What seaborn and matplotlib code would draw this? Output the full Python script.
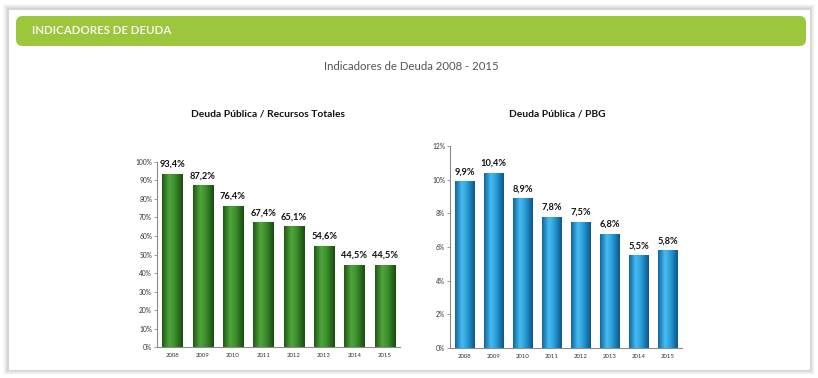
import matplotlib
matplotlib.use("Agg")
import matplotlib.pyplot as plt
import numpy as np
import pandas as pd
import seaborn as sns
from matplotlib.patches import Rectangle, FancyBboxPatch
from matplotlib.colors import LinearSegmentedColormap
from matplotlib.ticker import FuncFormatter, MultipleLocator

# Data
years = ['2008', '2009', '2010', '2011', '2012', '2013', '2014', '2015']
deuda_recursos = [93.4, 87.2, 76.4, 67.4, 65.1, 54.6, 44.5, 44.5]
deuda_pbg = [9.9, 10.4, 8.9, 7.8, 7.5, 6.8, 5.5, 5.8]

sns.set_style("white")
plt.rcParams['font.family'] = ['Lato', 'DejaVu Sans']

W, H = 818, 378
fig = plt.figure(figsize=(W / 100, H / 100), dpi=100)
fig.patch.set_facecolor('white')


def fx(x):
    return x / W


def fy(y):
    return 1 - y / H


# panel shadow + frame
for i, a in enumerate([0.025, 0.03, 0.035, 0.04, 0.05]):
    d = 5 - i
    fig.patches.append(Rectangle((fx(8 - d), fy(370 + d)), (802 + 2 * d) / W, (361 + 2 * d) / H,
                                 transform=fig.transFigure, facecolor='black', alpha=a,
                                 edgecolor='none', zorder=-3))
fig.patches.append(Rectangle((fx(8), fy(370)), 802 / W, 361 / H, transform=fig.transFigure,
                             facecolor='white', edgecolor='#d6d6d6', lw=0.8, zorder=-2))

# green header
fig.patches.append(FancyBboxPatch((fx(16), fy(46)), 790 / W, 30 / H, transform=fig.transFigure,
                                  boxstyle="round,pad=0,rounding_size=0.008",
                                  facecolor='#9cc63c', edgecolor='none', zorder=1,
                                  mutation_aspect=W / H))
fig.text(fx(32), fy(31), 'INDICADORES DE DEUDA', color='#f4f8ea', fontsize=8.3,
         fontweight='bold', va='center', ha='left', zorder=2)
fig.text(fx(411), fy(67), 'Indicadores de Deuda 2008 - 2015', color='#555555', fontsize=8.2,
         va='center', ha='center')

green = LinearSegmentedColormap.from_list('g', [(0, '#1f5a14'), (0.35, '#4fa63c'),
                                                (0.6, '#3d8f2e'), (1, '#1a4c10')])
blue = LinearSegmentedColormap.from_list('b', [(0, '#0f67a0'), (0.35, '#48bcef'),
                                               (0.6, '#2aa0dc'), (1, '#0c5689')])


def shade(ax, cmap):
    grad = np.linspace(0, 1, 64).reshape(1, -1)
    for p in list(ax.patches):
        x, w, h = p.get_x(), p.get_width(), p.get_height()
        im = ax.imshow(grad, cmap=cmap, extent=[x, x + w, 0, h], aspect='auto',
                       interpolation='bilinear', zorder=p.get_zorder() + 0.1)
        im.set_clip_path(p)


def draw(rect, values, top, step, cmap, title, title_x):
    ax = fig.add_axes(rect)
    ax.set_facecolor('none')
    df = pd.DataFrame({'year': years, 'value': values})
    sns.barplot(data=df, x='year', y='value', ax=ax, color='#3d8f2e', width=0.66,
                saturation=1)
    shade(ax, cmap)
    ax.set_xlim(-0.5, 7.5)
    ax.set_ylim(0, top)
    ax.yaxis.set_major_locator(MultipleLocator(step))
    ax.yaxis.set_major_formatter(FuncFormatter(lambda v, p: f"{v:.0f}%"))
    ax.set_xlabel('')
    ax.set_ylabel('')
    for s in ['top', 'right']:
        ax.spines[s].set_visible(False)
    for s in ['left', 'bottom']:
        ax.spines[s].set_color('#8a8a8a')
        ax.spines[s].set_linewidth(0.8)
    ax.tick_params(axis='y', length=2, width=0.6, color='#8a8a8a', pad=1.5,
                   labelsize=4.8, labelcolor='#333333', left=True)
    ax.tick_params(axis='x', length=0, pad=4, labelsize=4.3, labelcolor='#333333')
    for i, v in enumerate(values):
        ax.annotate(f"{v:.1f}%".replace('.', ','), (i, v), xytext=(0, 3.5),
                    textcoords='offset points', ha='center', va='bottom', fontsize=6.7,
                    fontweight='bold', color='#111111', clip_on=False)
    fig.text(title_x, fy(114), title, ha='center', va='center', fontsize=7.4,
             fontweight='bold', color='#111111')
    return ax


draw([fx(157), fy(347.3), 243 / W, 185.6 / H], deuda_recursos, 100, 10, green,
     'Deuda Pública / Recursos Totales', fx(268))
draw([fx(450), fy(348), 232 / W, 202 / H], deuda_pbg, 12, 2, blue,
     'Deuda Pública / PBG', fx(557))

fig.savefig('out.png', dpi=100)
